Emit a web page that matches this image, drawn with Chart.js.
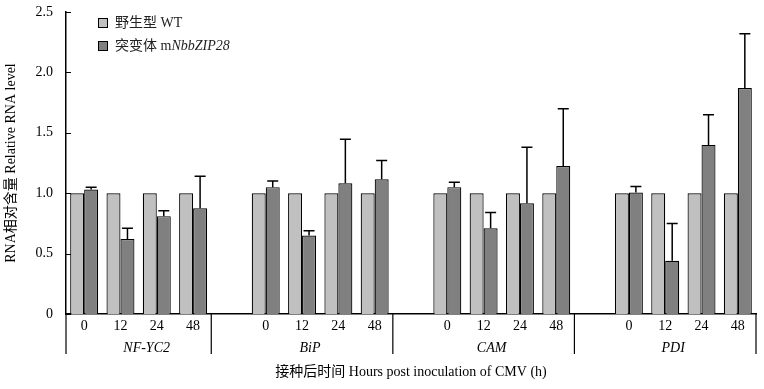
<!DOCTYPE html>
<html>
<head>
<meta charset="utf-8">
<script src="https://cdn.jsdelivr.net/npm/chart.js@4.4.1/dist/chart.umd.min.js"></script>
<style>
  html, body { margin: 0; padding: 0; background: #fff; }
  #wrap { width: 764px; height: 389px; }
</style>
</head>
<body>
<div id="wrap"><canvas id="chart"></canvas></div>
<script>
// genes and sampling times (hours post inoculation)
let genes = ['NF-YC2', 'BiP', 'CAM', 'PDI'];
let times = ['0', '12', '24', '48'];

// relative RNA level, per gene, per time point
let wtValues = [
    1.0, 1.0, 1.0, 1.0,
    1.0, 1.0, 1.0, 1.0,
    1.0, 1.0, 1.0, 1.0,
    1.0, 1.0, 1.0, 1.0
];
let mutValues = [
    1.03, 0.62, 0.81, 0.875,
    1.05, 0.65, 1.082, 1.115,
    1.05, 0.71, 0.916, 1.225,
    1.005, 0.44, 1.40, 1.87
];
// upper error (SD) of the mutant bars
let mutErrors = [
    0.02, 0.09, 0.045, 0.265,
    0.05, 0.04, 0.364, 0.155,
    0.04, 0.13, 0.464, 0.475,
    0.05, 0.31, 0.25, 0.45
];
let yTicks = [0, 0.5, 1.0, 1.5, 2.0, 2.5];

let legendLabels = [
    {zh: '野生型 ', en: 'WT', it: ''},
    {zh: '突变体 ', en: 'm', it: 'NbbZIP28'}
];
let colorWT = '#c0c0c0';
let colorMut = '#808080';
let serif = '"Liberation Serif", "Noto Sans CJK SC", serif';

// one empty slot between genes
let labels = [], wtData = [], mutData = [], errData = [], groups = [];
for (let g = 0; g < genes.length; g++) {
    if (g > 0) {
        labels.push('');
        wtData.push(null);
        mutData.push(null);
        errData.push(null);
    }
    groups.push({name: genes[g], start: labels.length, end: labels.length + times.length - 1});
    for (let t = 0; t < times.length; t++) {
        let k = g * times.length + t;
        labels.push(times[t]);
        wtData.push(wtValues[k]);
        mutData.push(mutValues[k]);
        errData.push(mutErrors[k]);
    }
}

let extrasPlugin = {
    id: 'extras',
    afterDatasetsDraw(chart) {
        let ctx = chart.ctx;
        let xs = chart.scales.x;
        let ys = chart.scales.y;
        ctx.save();
        ctx.strokeStyle = '#000';
        ctx.lineWidth = 1.5;

        // error bars, upward only
        let meta = chart.getDatasetMeta(1);
        meta.data.forEach((bar, i) => {
            if (mutData[i] === null) return;
            let yTop = ys.getPixelForValue(mutData[i] + errData[i]);
            let yBar = ys.getPixelForValue(mutData[i]);
            ctx.beginPath();
            ctx.moveTo(bar.x, yBar);
            ctx.lineTo(bar.x, yTop);
            ctx.moveTo(bar.x - 5.5, yTop);
            ctx.lineTo(bar.x + 5.5, yTop);
            ctx.stroke();
        });

        // inside tick marks on y axis
        ctx.lineWidth = 1;
        yTicks.forEach(v => {
            let y = Math.round(ys.getPixelForValue(v)) + 0.5;
            ctx.beginPath();
            ctx.moveTo(xs.left, y);
            ctx.lineTo(xs.left + 5, y);
            ctx.stroke();
        });

        // group separators and gene names
        ctx.lineWidth = 1.2;
        let sepBottom = xs.top + 40;
        let bounds = [];
        groups.forEach((gr, i) => {
            bounds.push(xs.getPixelForValue(gr.start - (i === 0 ? 0.5 : 1.5)));
        });
        bounds.push(xs.getPixelForValue(groups[groups.length - 1].end + 0.5));
        bounds.forEach(x => {
            ctx.beginPath();
            ctx.moveTo(x, xs.top);
            ctx.lineTo(x, sepBottom);
            ctx.stroke();
        });
        ctx.fillStyle = '#000';
        ctx.font = 'italic 14px ' + serif;
        ctx.textAlign = 'center';
        ctx.textBaseline = 'middle';
        groups.forEach((gr, i) => {
            let cx = (bounds[i] + bounds[i + 1]) / 2 + 8;
            ctx.fillText(gr.name, cx, xs.top + 34);
        });

        // legend inside the plot
        let lx = xs.left + 32;
        let ly = ys.top + 11;
        legendLabels.forEach((item, i) => {
            let y = ly + i * 23;
            ctx.fillStyle = i === 0 ? colorWT : colorMut;
            ctx.fillRect(lx, y - 4.5, 9, 9);
            ctx.lineWidth = 1;
            ctx.strokeRect(lx + 0.5, y - 4.5, 9, 9);
            ctx.textAlign = 'left';
            ctx.fillStyle = '#222';
            ctx.font = '14px ' + serif;
            let tx = lx + 17;
            ctx.fillText(item.zh + item.en, tx, y);
            tx += ctx.measureText(item.zh + item.en).width;
            if (item.it) {
                ctx.font = 'italic 14px ' + serif;
                ctx.fillText(item.it, tx, y);
            }
        });
        ctx.restore();
    }
};

new Chart(document.getElementById('chart'), {
    type: 'bar',
    data: {
        labels: labels,
        datasets: [{
            label: '野生型 WT',
            data: wtData,
            backgroundColor: colorWT,
            borderColor: '#000',
            borderWidth: 1.2,
            categoryPercentage: 0.77,
            barPercentage: 1.0
        }, {
            label: '突变体 mNbbZIP28',
            data: mutData,
            backgroundColor: colorMut,
            borderColor: '#000',
            borderWidth: 1.2,
            categoryPercentage: 0.77,
            barPercentage: 1.0
        }]
    },
    options: {
        responsive: true,
        maintainAspectRatio: false,
        animation: false,
        layout: {padding: {top: 12, right: 8, left: 0, bottom: 0}},
        plugins: {
            legend: {display: false},
            tooltip: {enabled: false}
        },
        scales: {
            x: {
                grid: {display: false, drawTicks: false},
                border: {display: true, color: '#000', width: 1.5},
                ticks: {
                    autoSkip: false,
                    maxRotation: 0,
                    padding: 4,
                    color: '#000',
                    font: {family: serif, size: 14}
                },
                title: {
                    display: true,
                    text: '接种后时间 Hours post inoculation of CMV (h)',
                    color: '#000',
                    font: {family: serif, size: 14},
                    padding: {top: 0, bottom: 8}
                },
                afterFit(scale) { scale.height = 75; }
            },
            y: {
                min: 0,
                max: 2.5,
                grid: {display: false, drawTicks: false},
                border: {display: true, color: '#000', width: 1.5},
                ticks: {
                    stepSize: 0.5,
                    padding: 13,
                    color: '#000',
                    font: {family: serif, size: 14},
                    callback: v => v === 0 ? '0' : v.toFixed(1)
                },
                title: {
                    display: true,
                    text: 'RNA相对含量 Relative RNA level',
                    color: '#000',
                    font: {family: serif, size: 14},
                    padding: {top: 3, bottom: 0}
                },
                afterFit(scale) {
                    scale.width = 66;
                    scale.paddingTop = 0;
                    scale.paddingBottom = 0;
                }
            }
        }
    },
    plugins: [extrasPlugin]
});
</script>
</body>
</html>
